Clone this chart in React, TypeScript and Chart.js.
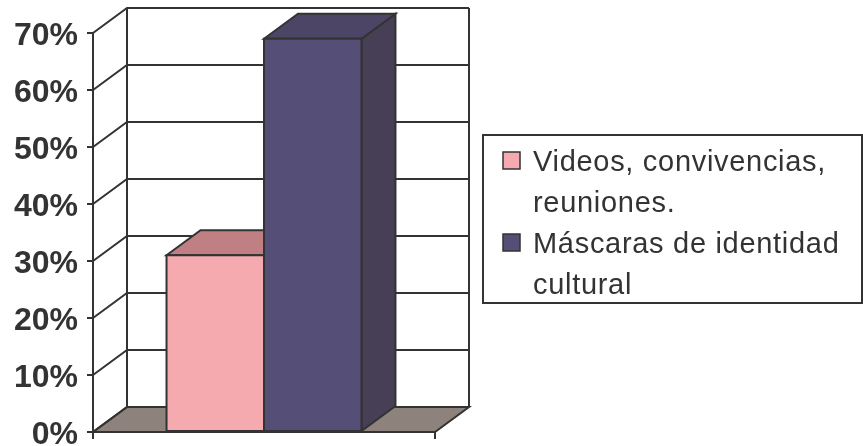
import React, { useEffect, useRef } from 'react';
import { Chart, registerables } from 'chart.js';

Chart.register(...registerables);

// ---- data ----
const categories = [''];
const seriesNames = [
  ['Videos, convivencias,', 'reuniones.'],
  ['Máscaras de identidad', 'cultural'],
];
const videosValues = [31];
const mascarasValues = [69];
const yMin = 0;
const yMax = 70;
const yStep = 10;

// ---- styles ----
const frontColors = ['#F5AAAF', '#554E77'];
const topColors = ['#C08083', '#4D4565'];
const sideColors = ['#A87072', '#463F55'];
const FLOOR = '#8E827D';
const LINE = '#333333';
const TEXT = '#333333';
const DX = 34;
const DY = -25;

const threeD = {
  id: 'threeD',
  beforeDatasetsDraw(chart: any) {
    const { ctx, chartArea: a, scales } = chart;
    const y = scales.y;
    ctx.save();
    ctx.lineWidth = 2;
    ctx.strokeStyle = LINE;
    ctx.lineJoin = 'miter';
    // floor
    ctx.beginPath();
    ctx.moveTo(a.left, a.bottom);
    ctx.lineTo(a.right, a.bottom);
    ctx.lineTo(a.right + DX, a.bottom + DY);
    ctx.lineTo(a.left + DX, a.bottom + DY);
    ctx.closePath();
    ctx.fillStyle = FLOOR;
    ctx.fill();
    ctx.stroke();
    // grid lines on side and back wall
    y.ticks.forEach((t: any) => {
      const py = y.getPixelForValue(t.value);
      ctx.beginPath();
      ctx.moveTo(a.left, py);
      ctx.lineTo(a.left + DX, py + DY);
      ctx.lineTo(a.right + DX, py + DY);
      ctx.stroke();
    });
    // back wall edges
    ctx.beginPath();
    ctx.moveTo(a.left + DX, a.top + DY);
    ctx.lineTo(a.left + DX, a.bottom + DY);
    ctx.moveTo(a.right + DX, a.top + DY);
    ctx.lineTo(a.right + DX, a.bottom + DY);
    ctx.stroke();
    // x-axis end ticks
    ctx.beginPath();
    ctx.moveTo(a.left, a.bottom);
    ctx.lineTo(a.left, a.bottom + 7);
    ctx.moveTo(a.right, a.bottom);
    ctx.lineTo(a.right, a.bottom + 7);
    ctx.stroke();
    ctx.restore();
  },
  afterDatasetsDraw(chart: any) {
    const { ctx } = chart;
    ctx.save();
    ctx.lineWidth = 2;
    ctx.strokeStyle = LINE;
    ctx.lineJoin = 'miter';
    chart.data.datasets.forEach((ds: any, i: number) => {
      const meta = chart.getDatasetMeta(i);
      meta.data.forEach((el: any) => {
        const { x, y, base, width } = el.getProps(['x', 'y', 'base', 'width'], true);
        const l = x - width / 2;
        const r = x + width / 2;
        // side
        ctx.beginPath();
        ctx.moveTo(r, y);
        ctx.lineTo(r + DX, y + DY);
        ctx.lineTo(r + DX, base + DY);
        ctx.lineTo(r, base);
        ctx.closePath();
        ctx.fillStyle = sideColors[i];
        ctx.fill();
        ctx.stroke();
        // top
        ctx.beginPath();
        ctx.moveTo(l, y);
        ctx.lineTo(l + DX, y + DY);
        ctx.lineTo(r + DX, y + DY);
        ctx.lineTo(r, y);
        ctx.closePath();
        ctx.fillStyle = topColors[i];
        ctx.fill();
        ctx.stroke();
        // front
        ctx.beginPath();
        ctx.rect(l, y, width, base - y);
        ctx.fillStyle = frontColors[i];
        ctx.fill();
        ctx.stroke();
      });
    });
    ctx.restore();
  },
  afterDraw(chart: any) {
    const { ctx, chartArea: a } = chart;
    const bx = a.right + 48;
    const by = 135;
    const bw = chart.width - 1 - bx;
    const bh = 168;
    ctx.save();
    ctx.lineWidth = 2;
    ctx.strokeStyle = LINE;
    ctx.strokeRect(bx, by, bw, bh);
    ctx.font = "29px 'Liberation Sans', Arial, sans-serif";
    (ctx as any).letterSpacing = '0.7px';
    ctx.fillStyle = TEXT;
    ctx.textBaseline = 'alphabetic';
    ctx.textAlign = 'left';
    let baseline = by + 36;
    const lh = 41;
    seriesNames.forEach((lines, i) => {
      ctx.fillStyle = frontColors[i];
      ctx.fillRect(bx + 20, baseline - 19, 17, 17);
      ctx.lineWidth = 1.5;
      ctx.strokeRect(bx + 20, baseline - 19, 17, 17);
      ctx.fillStyle = TEXT;
      lines.forEach((line) => {
        ctx.fillText(line, bx + 50, baseline);
        baseline += lh;
      });
    });
    ctx.restore();
  },
};

export default function App() {
  const ref = useRef<HTMLCanvasElement | null>(null);
  useEffect(() => {
    if (!ref.current) return;
    const chart = new Chart(ref.current, {
      type: 'bar',
      data: {
        labels: categories,
        datasets: [
          {
            label: seriesNames[0].join(' '),
            data: videosValues,
            backgroundColor: frontColors[0],
            borderColor: LINE,
            borderWidth: 2,
          },
          {
            label: seriesNames[1].join(' '),
            data: mascarasValues,
            backgroundColor: frontColors[1],
            borderColor: LINE,
            borderWidth: 2,
          },
        ],
      },
      options: {
        responsive: false,
        animation: false,
        devicePixelRatio: 1,
        layout: { padding: { left: 0, top: 33, right: 428, bottom: 14 } },
        datasets: { bar: { barPercentage: 1, categoryPercentage: 0.57 } },
        plugins: { legend: { display: false }, tooltip: { enabled: false } },
        scales: {
          x: { display: false },
          y: {
            min: yMin,
            max: yMax,
            afterFit: (s: any) => {
              s.width = 93;
              s.paddingTop = 0;
              s.paddingBottom = 0;
            },
            ticks: {
              stepSize: yStep,
              padding: 9,
              labelOffset: 3,
              color: TEXT,
              font: { family: "'Liberation Sans', Arial, sans-serif", size: 32, weight: 'bold' },
              callback: (v: any) => v + '%',
            },
            grid: {
              drawOnChartArea: false,
              drawTicks: true,
              tickLength: 6,
              tickColor: LINE,
              lineWidth: 2,
            },
            border: { display: true, color: LINE, width: 2 },
          },
        },
      },
      plugins: [threeD],
    } as any);
    return () => chart.destroy();
  }, []);
  return (
    <div style={{ position: 'absolute', left: 0, top: 0, width: 863, height: 446 }}>
      <canvas ref={ref} width={863} height={446} style={{ display: 'block' }} />
    </div>
  );
}
